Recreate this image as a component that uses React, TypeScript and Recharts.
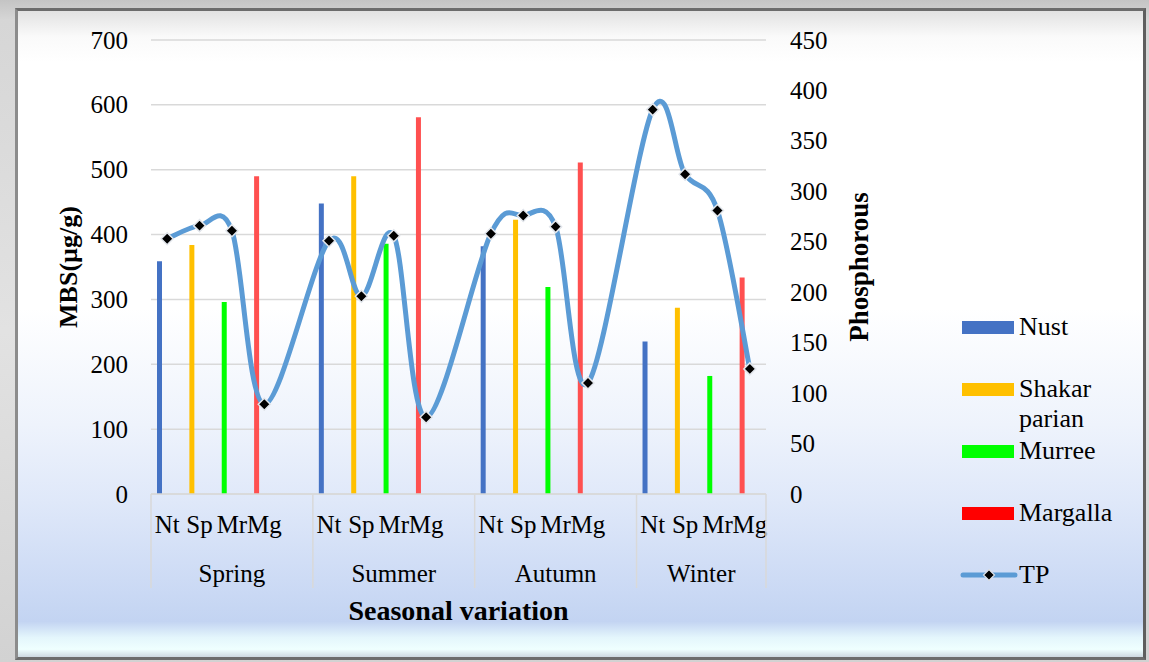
import React from 'react';
import { ComposedChart, Bar, Line, XAxis, YAxis, CartesianGrid, Legend } from 'recharts';

// ---------- data ----------
const seasons = ['Spring', 'Summer', 'Autumn', 'Winter'];
const siteCodes = ['Nt', 'Sp', 'Mr', 'Mg'];
const siteNames = ['Nust', 'Shakar parian', 'Murree', 'Margalla'];
const siteKeys = ['nust', 'shakar', 'murree', 'margalla'];

// MBS (µg/g), one value per season (Spring, Summer, Autumn, Winter)
const nustMBS = [359, 448, 382, 235];
const shakarMBS = [384, 490, 423, 287];
const murreeMBS = [296, 386, 319, 182];
const margallaMBS = [490, 581, 511, 334];

// TP (phosphorous) per season, in site order Nt, Sp, Mr, Mg
const tpSpring = [253, 266, 261, 89];
const tpSummer = [251, 196, 256, 76];
const tpAutumn = [258, 276, 265, 110];
const tpWinter = [381, 317, 281, 124];

const leftTicks = [0, 100, 200, 300, 400, 500, 600, 700];
const rightTicks = [0, 50, 100, 150, 200, 250, 300, 350, 400, 450];

// ---------- styling ----------
const barColors = ['#4472C4', '#FFC000', '#00FF00', '#FF5050'];
const legendColors = ['#4472C4', '#FFC000', '#00FF00', '#FF0000'];
const lineColor = '#5B9BD5';
const FONT = "'Liberation Serif', 'Times New Roman', serif";

const mbsBySite = [nustMBS, shakarMBS, murreeMBS, margallaMBS];
const tpBySeason = [tpSpring, tpSummer, tpAutumn, tpWinter];

const rows: any[] = [];
seasons.forEach((season, s) => {
  siteCodes.forEach((code, k) => {
    const row: any = { key: `${season}-${code}`, label: code, season, tp: tpBySeason[s][k], pad: null };
    siteKeys.forEach((sk, j) => {
      row[sk] = j === k ? mbsBySite[j][s] : null;
    });
    rows.push(row);
  });
  if (s < seasons.length - 1) {
    rows.push({ key: `${season}-gap`, label: '', season, tp: null, pad: null });
  }
});

// ---------- layout ----------
const CHART_W = 1149;
const CHART_H = 662;
const MARGIN = { top: 40, right: 198, bottom: 58, left: 0 };
const LEFT_W = 151;
const RIGHT_W = 185;
const X1_H = 50;
const X2_H = 60;
const PLOT_W = CHART_W - MARGIN.left - MARGIN.right - LEFT_W - RIGHT_W;
const BAND = PLOT_W / rows.length;

const tickStyle = { fontFamily: FONT, fontSize: 25, fill: '#000' };

// Excel-like smoothed line (Catmull-Rom through the points)
const smoothCurve: any = (context: any) => {
  let pts: number[][] = [];
  return {
    areaStart() {},
    areaEnd() {},
    lineStart() {
      pts = [];
    },
    point(x: number, y: number) {
      pts.push([+x, +y]);
    },
    lineEnd() {
      const n = pts.length;
      if (!n) return;
      context.moveTo(pts[0][0], pts[0][1]);
      for (let i = 0; i < n - 1; i++) {
        const p0 = pts[i - 1] || pts[i];
        const p1 = pts[i];
        const p2 = pts[i + 1];
        const p3 = pts[i + 2] || p2;
        const c1x = p1[0] + (p2[0] - p0[0]) / 6;
        const c1y = p1[1] + (p2[1] - p0[1]) / 6;
        const c2x = p2[0] - (p3[0] - p1[0]) / 6;
        const c2y = p2[1] - (p3[1] - p1[1]) / 6;
        context.bezierCurveTo(c1x, c1y, c2x, c2y, p2[0], p2[1]);
      }
    },
  };
};

const diamondPath = (cx: number, cy: number, r: number) =>
  `M${cx},${cy - r}L${cx + r},${cy}L${cx},${cy + r}L${cx - r},${cy}Z`;

const DiamondDot = (props: any) => {
  const { cx, cy, index } = props;
  if (cx == null || cy == null || Number.isNaN(cy) || props.value == null) {
    return <g key={`dot-${index}`} />;
  }
  return (
    <path key={`dot-${index}`} d={diamondPath(cx, cy, 6)} fill="#000" stroke="#E2E6EC" strokeWidth={1.5} />
  );
};

const SiteTick = (props: any) => {
  const { x, y, payload } = props;
  const r = rows.find((row) => row.key === payload.value);
  return (
    <text x={x} y={y + 18} textAnchor="middle" style={tickStyle}>
      {r ? r.label : ''}
    </text>
  );
};

const ValueTick = (props: any) => {
  const { x, y, payload, anchor } = props;
  return (
    <text x={x} y={y + 8.5} textAnchor={anchor} style={tickStyle}>
      {payload.value}
    </text>
  );
};

const SeasonTick = (props: any) => {
  const { x, y, payload } = props;
  const idx = rows.findIndex((r) => r.key === payload.value);
  if (idx < 0) return <g />;
  const row = rows[idx];
  const half = BAND / 2;
  const isFirst = idx === 0 || rows[idx - 1].season !== row.season;
  const isLast = idx === rows.length - 1;
  const groupSize = rows.filter((r) => r.season === row.season).length;
  const top = y - (X1_H + 8);
  return (
    <g>
      {isFirst && (
        <line x1={x - half} x2={x - half} y1={top} y2={y + 36} stroke="#D9D9D9" strokeWidth={1.5} />
      )}
      {isLast && (
        <line x1={x + half} x2={x + half} y1={top} y2={y + 36} stroke="#D9D9D9" strokeWidth={1.5} />
      )}
      {isFirst && (
        <text x={x - half + groupSize * half} y={y + 30} textAnchor="middle" style={tickStyle}>
          {row.season}
        </text>
      )}
    </g>
  );
};

const legendOrder = [...siteKeys, 'tp'];

const renderLegend = (props: any) => {
  const items = (props.payload || [])
    .filter((p: any) => p.type !== 'none' && legendOrder.indexOf(p.dataKey) >= 0)
    .sort((a: any, b: any) => legendOrder.indexOf(a.dataKey) - legendOrder.indexOf(b.dataKey));
  return (
    <div style={{ fontFamily: FONT, fontSize: 26, color: '#000' }}>
      {items.map((item: any) => {
        const siteIdx = siteKeys.indexOf(item.dataKey);
        const isLine = item.dataKey === 'tp';
        return (
          <div key={item.dataKey} style={{ display: 'flex', alignItems: 'flex-start', height: 62 }}>
            {isLine ? (
              <svg width={58} height={14} style={{ marginTop: 8, marginRight: 1, flex: 'none' }}>
                <line x1={3} x2={55} y1={7} y2={7} stroke={lineColor} strokeWidth={5} strokeLinecap="round" />
                <path d={diamondPath(29, 7, 5.5)} fill="#000" stroke="#E2E6EC" strokeWidth={1.2} />
              </svg>
            ) : (
              <div
                style={{
                  width: 52,
                  height: 13,
                  marginTop: 8.5,
                  marginLeft: 2,
                  marginRight: 5,
                  background: siteIdx >= 0 ? legendColors[siteIdx] : item.color,
                  flex: 'none',
                }}
              />
            )}
            <div style={{ lineHeight: '30px', width: 112 }}>{item.value}</div>
          </div>
        );
      })}
    </div>
  );
};

export default function App() {
  return (
    <div
      style={{
        position: 'absolute',
        left: 0,
        top: 0,
        width: CHART_W,
        height: CHART_H,
        overflow: 'hidden',
        fontFamily: FONT,
        background: 'linear-gradient(to bottom, #c4c4c4 0%, #d6d6d6 3%, #e2e2e2 50%, #d2d2d2 100%)',
      }}
    >
      <div
        style={{
          position: 'absolute',
          left: 15,
          top: 8,
          width: 1131,
          height: 652,
          boxSizing: 'border-box',
          borderTop: '3px solid #6c6c6c',
          borderLeft: '3px solid #8c8c8c',
          borderRight: '3px solid #5e5e5e',
          borderBottom: '3px solid #6c6c6c',
          background:
            'linear-gradient(to bottom, #e2e2e2 0%, #fafafa 4%, #ffffff 8%, #ffffff 46%, #eef3fc 64%, #dfe8f9 76%, #cddbf5 88%, #c3d4f2 94.5%, #e4f6fc 97%, #efffff 98.8%, #cdd8e0 100%)',
        }}
      />
      <div style={{ position: 'absolute', left: 0, top: 0, fontFamily: FONT }}>
        <ComposedChart width={CHART_W} height={CHART_H} data={rows} margin={MARGIN} barGap={11}>
          <CartesianGrid yAxisId="left" vertical={false} stroke="#D9D9D9" strokeWidth={1.5} />
          <XAxis
            dataKey="key"
            interval={0}
            height={X1_H}
            tickLine={false}
            axisLine={{ stroke: '#D9D9D9', strokeWidth: 1.5 }}
            tickMargin={15}
            tick={<SiteTick />}
          />
          <XAxis
            xAxisId="season"
            dataKey="key"
            interval={0}
            height={X2_H}
            tickLine={false}
            axisLine={false}
            tick={<SeasonTick />}
            label={{
              value: 'Seasonal variation',
              position: 'bottom',
              offset: -4,
              style: { fontFamily: FONT, fontSize: 28, fontWeight: 'bold', fill: '#000' },
            }}
          />
          <YAxis
            yAxisId="left"
            width={LEFT_W}
            domain={[0, 700]}
            ticks={leftTicks}
            interval={0}
            axisLine={false}
            tickLine={false}
            tickMargin={17}
            tick={<ValueTick anchor="end" />}
            label={{
              value: 'MBS(µg/g)',
              angle: -90,
              position: 'center',
              dx: -8,
              style: { fontFamily: FONT, fontSize: 26, fontWeight: 'bold', fill: '#000' },
            }}
          />
          <YAxis
            yAxisId="right"
            orientation="right"
            width={RIGHT_W}
            domain={[0, 450]}
            ticks={rightTicks}
            interval={0}
            axisLine={false}
            tickLine={false}
            tickMargin={18}
            tick={<ValueTick anchor="start" />}
            label={{
              value: 'Phosphorous',
              angle: -90,
              position: 'center',
              dx: 0,
              style: { fontFamily: FONT, fontSize: 27, fontWeight: 'bold', fill: '#000' },
            }}
          />
          {siteKeys.map((k, i) => (
            <Bar
              key={k}
              yAxisId="left"
              dataKey={k}
              name={siteNames[i]}
              stackId="sites"
              fill={barColors[i]}
              barSize={5}
              isAnimationActive={false}
            />
          ))}
          <Bar
            yAxisId="left"
            dataKey="pad"
            stackId="pad"
            fill="transparent"
            barSize={5}
            legendType="none"
            isAnimationActive={false}
          />
          <Line
            yAxisId="right"
            dataKey="tp"
            name="TP"
            type={smoothCurve}
            connectNulls
            stroke={lineColor}
            strokeWidth={5}
            dot={DiamondDot}
            activeDot={false}
            isAnimationActive={false}
          />
          <Legend
            layout="vertical"
            align="center"
            verticalAlign="middle"
            content={renderLegend}
            wrapperStyle={{ left: 960, top: 312, width: 185 }}
          />
        </ComposedChart>
      </div>
    </div>
  );
}
